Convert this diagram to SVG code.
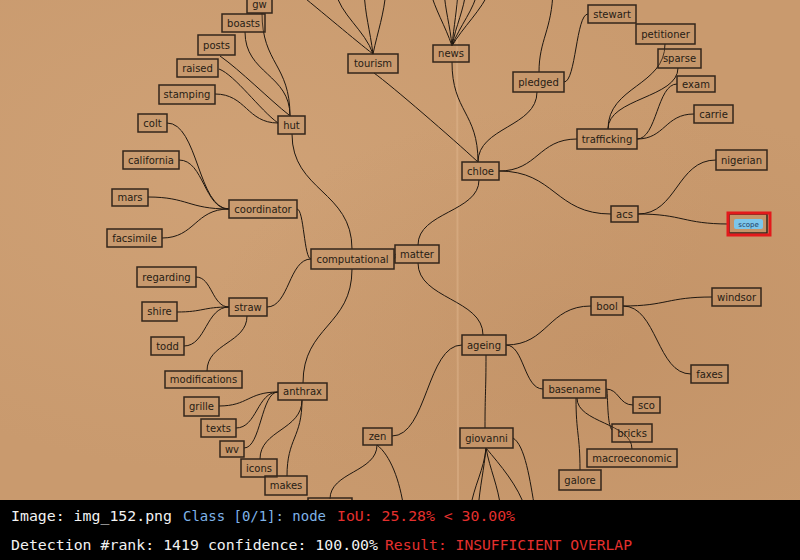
<svg xmlns="http://www.w3.org/2000/svg" width="800" height="560" viewBox="0 0 800 560">
<defs>
<radialGradient id="m1" cx="0.3" cy="0.35" r="0.6"><stop offset="0" stop-color="#d3a67b" stop-opacity="0.6"/><stop offset="1" stop-color="#d3a67b" stop-opacity="0"/></radialGradient>
<radialGradient id="m2" cx="0.75" cy="0.7" r="0.5"><stop offset="0" stop-color="#b9875c" stop-opacity="0.35"/><stop offset="1" stop-color="#b9875c" stop-opacity="0"/></radialGradient>
<style>
.n rect{fill:#bb8a5f;fill-opacity:0.25;stroke:#33261b;stroke-width:1.5}
.n text{font-family:"DejaVu Sans",sans-serif;font-size:10px;fill:#271c14;text-anchor:middle}
#edges path{fill:none;stroke:#1f1710;stroke-width:1}
.bar{font-family:"DejaVu Sans Mono","Liberation Mono",monospace;font-size:14.7px}
</style>
</defs>
<rect x="0" y="0" width="800" height="560" fill="#c99a6e"/>
<rect x="0" y="0" width="800" height="500" fill="url(#m1)"/>
<rect x="0" y="0" width="800" height="500" fill="url(#m2)"/>
<line x1="457" y1="0" x2="458" y2="500" stroke="#e2b990" stroke-opacity="0.45" stroke-width="2"/>
<g id="edges">
<path d="M262 13 C262 64 290 64 290 116"/>
<path d="M245 32 C245 74 290 74 290 116"/>
<path d="M220 56 C240 70 270 100 289 115"/>
<path d="M219 69 C235 75 260 110 278 123"/>
<path d="M215 94 C246 94 247 123 278 123"/>
<path d="M167 123 C198 123 198 209 229 209"/>
<path d="M179 160 C204 160 204 209 229 209"/>
<path d="M148 197 C188 197 188 209 229 209"/>
<path d="M162 238 C195 238 195 209 229 209"/>
<path d="M196 277 C212 277 212 307 229 307"/>
<path d="M177 312 C203 312 203 307 229 307"/>
<path d="M184 346 C206 346 206 307 229 307"/>
<path d="M207 371 C207 343 247 343 247 316"/>
<path d="M219 406 C248 406 248 392 278 392"/>
<path d="M236 428 C257 428 257 392 278 392"/>
<path d="M244 448 C261 448 261 392 278 392"/>
<path d="M260 459 C260 430 302 430 302 400"/>
<path d="M287 476 C287 438 302 438 302 400"/>
<path d="M292 134 C292 191 352 191 352 249"/>
<path d="M297 209 C304 209 304 259 311 259"/>
<path d="M267 307 C289 307 289 259 311 259"/>
<path d="M303 383 C303 326 352 326 352 269"/>
<path d="M394 259 C397 258 393 255 396 254"/>
<path d="M418 245 C418 212 479 212 479 180"/>
<path d="M418 263 C418 299 483 299 483 335"/>
<path d="M374 73 C392 86 452 138 478 162"/>
<path d="M452 62 C452 112 478 112 478 162"/>
<path d="M537 92 C537 127 478 127 478 162"/>
<path d="M499 171 C538 171 538 139 577 139"/>
<path d="M499 171 C555 171 555 214 611 214"/>
<path d="M608 129 C608 86 665 86 665 44"/>
<path d="M608 129 C608 98 678 98 678 68"/>
<path d="M637 139 C657 139 657 84 677 84"/>
<path d="M637 139 C665 139 665 114 694 114"/>
<path d="M638 214 C677 214 677 160 716 160"/>
<path d="M638 214 C683 214 683 224 729 224"/>
<path d="M564 82 C576 82 576 14 588 14"/>
<path d="M539 72 C539 40 552 30 553 -10"/>
<path d="M506 345 C548 345 548 306 591 306"/>
<path d="M506 345 C524 345 524 389 543 389"/>
<path d="M486 355 C486 392 485 392 485 428"/>
<path d="M462 345 C427 345 427 436 392 436"/>
<path d="M623 306 C667 306 667 297 712 297"/>
<path d="M623 306 C657 306 657 374 691 374"/>
<path d="M606 389 C619 389 619 405 633 405"/>
<path d="M607 390 C608 410 608 425 612 430"/>
<path d="M577 398 C577 423 632 423 632 449"/>
<path d="M576 398 C576 434 580 434 580 470"/>
<path d="M486 448 C484 470 474 485 470 510"/>
<path d="M486 448 C484 470 480 485 478 510"/>
<path d="M486 448 C490 470 498 485 501 510"/>
<path d="M486 448 C500 465 518 485 526 510"/>
<path d="M513 438 C525 445 530 480 535 510"/>
<path d="M377 445 C377 472 330 472 330 499"/>
<path d="M377 445 C390 455 400 480 404 510"/>
<path d="M373 54 C355 40 322 12 295 -10"/>
<path d="M373 54 C365 30 340 15 335 -10"/>
<path d="M373 54 C370 30 365 15 364 -10"/>
<path d="M373 54 C378 30 384 15 386 -10"/>
<path d="M452 46 C445 25 435 10 430 -10"/>
<path d="M452 46 C450 25 445 10 444 -10"/>
<path d="M452 46 C454 25 457 10 458 -10"/>
<path d="M452 46 C456 25 464 10 466 -10"/>
<path d="M452 46 C460 25 474 10 478 -10"/>
<path d="M452 46 C462 28 482 10 490 -10"/>
</g>
<g id="n-gw" class="n"><rect x="247" y="-6" width="25" height="19"/><text x="259.5" y="8">gw</text></g>
<g id="n-boasts" class="n"><rect x="222" y="14" width="43" height="18"/><text x="243.5" y="26.5">boasts</text></g>
<g id="n-posts" class="n"><rect x="198" y="35" width="37" height="20"/><text x="216.5" y="48.5">posts</text></g>
<g id="n-raised" class="n"><rect x="177" y="59" width="41" height="18"/><text x="197.5" y="71.5">raised</text></g>
<g id="n-stamping" class="n"><rect x="159" y="85" width="56" height="19"/><text x="187" y="98">stamping</text></g>
<g id="n-colt" class="n"><rect x="138" y="114" width="29" height="18"/><text x="152.5" y="126.5">colt</text></g>
<g id="n-hut" class="n"><rect x="278" y="116" width="27" height="18"/><text x="291.5" y="128.5">hut</text></g>
<g id="n-california" class="n"><rect x="123" y="151" width="56" height="18"/><text x="151" y="163.5">california</text></g>
<g id="n-mars" class="n"><rect x="112" y="189" width="36" height="17"/><text x="130" y="201">mars</text></g>
<g id="n-facsimile" class="n"><rect x="107" y="229" width="55" height="18"/><text x="134.5" y="241.5">facsimile</text></g>
<g id="n-coordinator" class="n"><rect x="229" y="200" width="68" height="18"/><text x="263" y="212.5">coordinator</text></g>
<g id="n-computational" class="n"><rect x="311" y="249" width="83" height="20"/><text x="352.5" y="262.5">computational</text></g>
<g id="n-matter" class="n"><rect x="395" y="245" width="44" height="18"/><text x="417" y="257.5">matter</text></g>
<g id="n-chloe" class="n"><rect x="462" y="162" width="37" height="18"/><text x="480.5" y="174.5">chloe</text></g>
<g id="n-tourism" class="n"><rect x="348" y="54" width="50" height="19"/><text x="373" y="67">tourism</text></g>
<g id="n-news" class="n"><rect x="433" y="45" width="36" height="17"/><text x="451" y="57">news</text></g>
<g id="n-pledged" class="n"><rect x="513" y="72" width="51" height="20"/><text x="538.5" y="85.5">pledged</text></g>
<g id="n-stewart" class="n"><rect x="588" y="5" width="48" height="18"/><text x="612" y="17.5">stewart</text></g>
<g id="n-petitioner" class="n"><rect x="636" y="24" width="59" height="20"/><text x="665.5" y="37.5">petitioner</text></g>
<g id="n-sparse" class="n"><rect x="658" y="49" width="43" height="19"/><text x="679.5" y="62">sparse</text></g>
<g id="n-exam" class="n"><rect x="677" y="76" width="38" height="16"/><text x="696" y="87.5">exam</text></g>
<g id="n-carrie" class="n"><rect x="694" y="105" width="39" height="18"/><text x="713.5" y="117.5">carrie</text></g>
<g id="n-trafficking" class="n"><rect x="577" y="129" width="60" height="20"/><text x="607" y="142.5">trafficking</text></g>
<g id="n-nigerian" class="n"><rect x="716" y="150" width="51" height="20"/><text x="741.5" y="163.5">nigerian</text></g>
<g id="n-acs" class="n"><rect x="611" y="206" width="27" height="16"/><text x="624.5" y="217.5">acs</text></g>
<g id="n-scope" class="n"><rect x="729" y="214" width="38" height="19"/><rect x="734" y="219" width="29" height="10" rx="2" style="fill:#7cc6ea;fill-opacity:1;stroke:none"/><text x="748.5" y="226.5" style="font-size:7px;fill:#1d3c66">scope</text></g>
<g id="n-regarding" class="n"><rect x="137" y="267" width="59" height="20"/><text x="166.5" y="280.5">regarding</text></g>
<g id="n-shire" class="n"><rect x="142" y="302" width="35" height="19"/><text x="159.5" y="315">shire</text></g>
<g id="n-todd" class="n"><rect x="151" y="337" width="33" height="18"/><text x="167.5" y="349.5">todd</text></g>
<g id="n-straw" class="n"><rect x="229" y="298" width="38" height="18"/><text x="248" y="310.5">straw</text></g>
<g id="n-modifications" class="n"><rect x="165" y="371" width="77" height="17"/><text x="203.5" y="383">modifications</text></g>
<g id="n-anthrax" class="n"><rect x="278" y="383" width="49" height="17"/><text x="302.5" y="395">anthrax</text></g>
<g id="n-grille" class="n"><rect x="184" y="397" width="35" height="19"/><text x="201.5" y="410">grille</text></g>
<g id="n-texts" class="n"><rect x="201" y="419" width="35" height="18"/><text x="218.5" y="431.5">texts</text></g>
<g id="n-wv" class="n"><rect x="220" y="441" width="24" height="16"/><text x="232" y="452.5">wv</text></g>
<g id="n-icons" class="n"><rect x="241" y="459" width="36" height="18"/><text x="259" y="471.5">icons</text></g>
<g id="n-makes" class="n"><rect x="265" y="476" width="42" height="19"/><text x="286" y="489">makes</text></g>
<g id="n-ageing" class="n"><rect x="462" y="335" width="44" height="20"/><text x="484" y="348.5">ageing</text></g>
<g id="n-zen" class="n"><rect x="363" y="428" width="29" height="17"/><text x="377.5" y="440">zen</text></g>
<g id="n-giovanni" class="n"><rect x="460" y="428" width="53" height="20"/><text x="486.5" y="441.5">giovanni</text></g>
<g id="n-bool" class="n"><rect x="591" y="297" width="32" height="18"/><text x="607" y="309.5">bool</text></g>
<g id="n-windsor" class="n"><rect x="712" y="288" width="49" height="18"/><text x="736.5" y="300.5">windsor</text></g>
<g id="n-faxes" class="n"><rect x="691" y="365" width="37" height="18"/><text x="709.5" y="377.5">faxes</text></g>
<g id="n-basename" class="n"><rect x="543" y="380" width="63" height="18"/><text x="574.5" y="392.5">basename</text></g>
<g id="n-sco" class="n"><rect x="633" y="397" width="27" height="16"/><text x="646.5" y="408.5">sco</text></g>
<g id="n-bricks" class="n"><rect x="612" y="424" width="40" height="18"/><text x="632" y="436.5">bricks</text></g>
<g id="n-macroeconomic" class="n"><rect x="587" y="449" width="90" height="18"/><text x="632" y="461.5">macroeconomic</text></g>
<g id="n-galore" class="n"><rect x="559" y="470" width="42" height="20"/><text x="580" y="483.5">galore</text></g>
<g id="n-partial" class="n"><rect x="308" y="498" width="44" height="20"/></g>
<g id="highlight"><rect x="728" y="213" width="42" height="22" fill="none" stroke="#e3191b" stroke-width="3"/></g>
<g id="infobar">
<rect x="0" y="500" width="800" height="60" fill="#000"/>
<text class="bar" y="521"><tspan x="11" fill="#f2f2f2" textLength="161" lengthAdjust="spacingAndGlyphs">Image: img_152.png</tspan><tspan x="183" fill="#7fb3e8" textLength="143" lengthAdjust="spacingAndGlyphs">Class [0/1]: node</tspan><tspan x="337" fill="#e5302e" textLength="178" lengthAdjust="spacingAndGlyphs">IoU: 25.28% &lt; 30.00%</tspan></text>
<text class="bar" y="550"><tspan x="11" fill="#f2f2f2" textLength="367" lengthAdjust="spacingAndGlyphs">Detection #rank: 1419 confidence: 100.00%</tspan><tspan x="385" fill="#e5302e" textLength="247" lengthAdjust="spacingAndGlyphs">Result: INSUFFICIENT OVERLAP</tspan></text>
</g>
</svg>
